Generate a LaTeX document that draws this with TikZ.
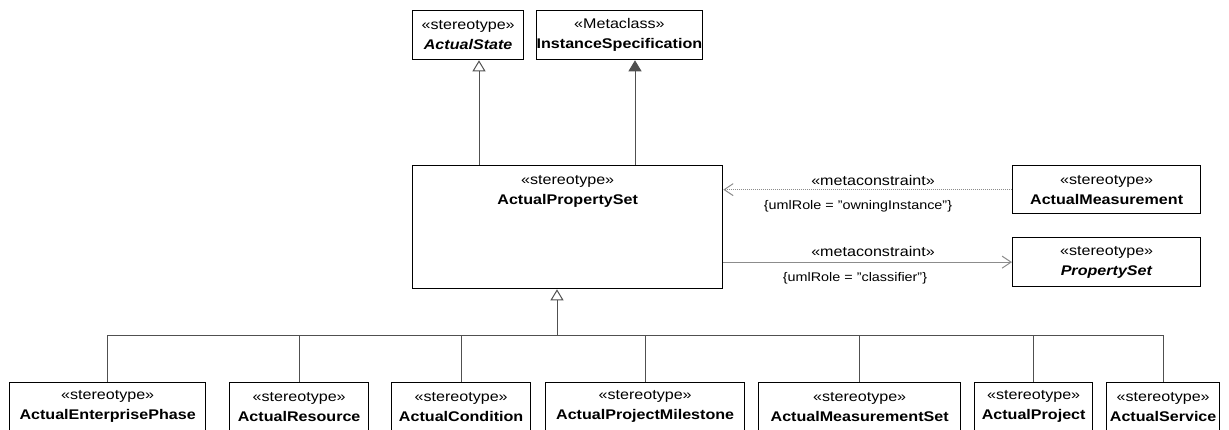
\documentclass[tikz,border=0pt]{standalone}
\usepackage{fontspec}
\setmainfont{Liberation Sans}[FakeStretch=1.15]
\usetikzlibrary{arrows.meta}
\definecolor{linegray}{HTML}{505050}
\definecolor{depgray}{HTML}{8C8C8C}
\begin{document}
\begin{tikzpicture}[x=1pt,y=-1pt,
  every node/.style={font=\fontsize{14}{20}\selectfont, inner sep=0pt},
  cls/.style={draw=black, line width=1.3pt, fill=white, anchor=north west,
              align=center, minimum height=48pt},
  conn/.style={draw=linegray, line width=1pt},
  gen/.style={conn, -{Triangle[open, length=11pt, width=13pt, line width=1pt]}},
  real/.style={conn, -{Triangle[length=11pt, width=13pt, fill=linegray]}},
  dep/.style={draw=depgray, line width=1pt, dash pattern=on 1.2pt off 0.8pt,
              -{Straight Barb[length=9pt, width=12pt, line width=1pt]}},
  lbl/.style={font=\fontsize{14}{20}\selectfont},
  rolelbl/.style={font=\fontsize{12.5}{15}\selectfont}]
\useasboundingbox (0,0) rectangle (1229,430);

% top classes
\node[cls, minimum width=111pt, minimum height=49pt] (as) at (412,10)
  {«stereotype»\\\textbf{\textit{ActualState}}};
\node[cls, minimum width=145pt, minimum height=49pt] (is) at (536,10)
  {«Metaclass»\\\textbf{InstanceSpecification}};

% central stereotype
\node[cls, minimum width=310pt, minimum height=123pt] (aps) at (412,165) {};
\node[anchor=north, align=center] (apstxt) at ([yshift=-10pt]aps.north)
  {«stereotype»\\\textbf{ActualPropertySet}};

% right-hand classes
\node[cls, minimum width=188pt] (am) at (1012,165)
  {«stereotype»\\\textbf{ActualMeasurement}};
\node[cls, minimum width=188pt, minimum height=49pt] (ps) at (1012,237)
  {«stereotype»\\\textbf{\textit{PropertySet}}};

% specialisations
\node[cls, minimum width=196pt] (aep) at (9,382)   {«stereotype»\\\textbf{ActualEnterprisePhase}};
\node[cls, minimum width=139pt] (ar)  at (229,382) {«stereotype»\\\textbf{ActualResource}};
\node[cls, minimum width=139pt] (ac)  at (391,382) {«stereotype»\\\textbf{ActualCondition}};
\node[cls, minimum width=199pt] (apm) at (545,382) {«stereotype»\\\textbf{ActualProjectMilestone}};
\node[cls, minimum width=202pt] (ams) at (758,382) {«stereotype»\\\textbf{ActualMeasurementSet}};
\node[cls, minimum width=118pt] (ap)  at (974,382) {«stereotype»\\\textbf{ActualProject}};
\node[cls, minimum width=113pt] (asv) at (1106,382){«stereotype»\\\textbf{ActualService}};

% generalisation / extension to the top
\coordinate (asfoot) at (479,0);
\coordinate (isfoot) at (635,0);
\draw[gen]  (aps.north -| asfoot) -- (as.south -| asfoot);
\draw[real] (aps.north -| isfoot) -- (is.south -| isfoot);

% generalisation tree from the specialisations
\coordinate (bus) at (557,336);
\draw[conn] (aep.north) |- (asv.north |- bus) -- (asv.north);
\foreach \c in {ar,ac,apm,ams,ap}
  \draw[conn] (\c.north) -- (\c.north |- bus);
\draw[gen] (bus) -- (bus |- aps.south);

% metaconstraints
\draw[dep] (am.west) -- (aps.east |- am.west);
\draw[dep] (ps.west -| aps.east) -- (ps.west);
\node[lbl] (mc1) at (873,180) {«metaconstraint»};
\node[rolelbl] (r1) at (858,206) {\{umlRole = "owningInstance"\}};
\node[lbl] (mc2) at (873,251) {«metaconstraint»};
\node[rolelbl] (r2) at (855,278) {\{umlRole = "classifier"\}};
\end{tikzpicture}
\end{document}
